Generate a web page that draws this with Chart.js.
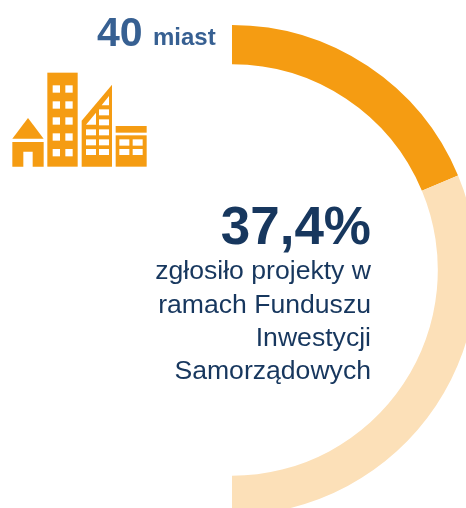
<!DOCTYPE html>
<html lang="pl"><head><meta charset="utf-8">
<script src="https://cdn.jsdelivr.net/npm/chart.js@4"></script>
<style>
html,body{margin:0;padding:0;background:#fff;width:466px;height:508px;overflow:hidden}
body{position:relative;font-family:"Liberation Sans",Arial,sans-serif}
#wrap{position:absolute;left:232px;top:25px;width:245px;height:490px}
.t{position:absolute;white-space:nowrap;line-height:1}
#body div{position:absolute;right:0;white-space:nowrap;line-height:1}
</style></head><body>
<div id="wrap"><canvas id="c" width="245" height="490"></canvas></div>
<svg style="position:absolute;left:0;top:0" width="233" height="180" viewBox="0 0 699 540">
<g fill="#F59C12">
<polygon points="37,416 84,354 131,416"/>
<path fill-rule="evenodd" d="M37 426H131V500H98V455H70V500H37Z"/>
<rect x="142" y="218" width="91" height="282"/>
<polygon points="245,362 336,254 336,500 245,500"/>
<rect x="347" y="378" width="93" height="20"/>
<rect x="347" y="406" width="93" height="94"/>
</g>
<g fill="#fff">
<rect x="158" y="256" width="22" height="22"/><rect x="196" y="256" width="22" height="22"/>
<rect x="158" y="304" width="22" height="22"/><rect x="196" y="304" width="22" height="22"/>
<rect x="158" y="352" width="22" height="22"/><rect x="196" y="352" width="22" height="22"/>
<rect x="158" y="400" width="22" height="22"/><rect x="196" y="400" width="22" height="22"/>
<rect x="158" y="447" width="22" height="22"/><rect x="196" y="447" width="22" height="22"/>
<polygon points="327,288 305,316 327,316"/>
<rect x="297" y="328" width="30" height="18"/>
<polygon points="288,338 258,374 288,374"/><rect x="297" y="358" width="30" height="18"/>
<rect x="258" y="388" width="30" height="18"/><rect x="297" y="388" width="30" height="18"/>
<rect x="258" y="418" width="30" height="18"/><rect x="297" y="418" width="30" height="18"/>
<rect x="258" y="447" width="30" height="18"/><rect x="297" y="447" width="30" height="18"/>
<rect x="358" y="418" width="30" height="19"/><rect x="398" y="418" width="30" height="19"/>
<rect x="358" y="447" width="30" height="18"/><rect x="398" y="447" width="30" height="18"/>
</g></svg>
<div class="t" style="left:97px;top:12px;font-size:41px;font-weight:700;color:#376092">40</div>
<div class="t" style="left:153px;top:25px;font-size:24px;font-weight:700;color:#376092">miast</div>
<div class="t" style="right:95px;top:199px;font-size:53px;font-weight:700;color:#17375E">37,4%</div>
<div id="body" style="position:absolute;left:0;top:0;width:371px;height:400px;color:#17375E;font-size:26.6px">
<div style="top:257px">zgłosiło projekty w</div>
<div style="top:291px">ramach Funduszu</div>
<div style="top:324px">Inwestycji</div>
<div style="top:357px">Samorządowych</div>
</div>
<script>
const categories = ["zgłosiło projekty", "pozostałe"];
const shareValues = [37.4, 62.6];
const sliceColors = ["#F59C12", "#FCE0B8"];
new Chart(document.getElementById("c"), {
  type: "doughnut",
  data: { labels: categories, datasets: [{ data: shareValues, backgroundColor: sliceColors, borderWidth: 0 }] },
  options: {
    responsive: false, animation: false, rotation: 0, circumference: 180, cutout: "84%",
    plugins: { legend: { display: false }, tooltip: { enabled: false } }
  }
});
</script>
</body></html>
